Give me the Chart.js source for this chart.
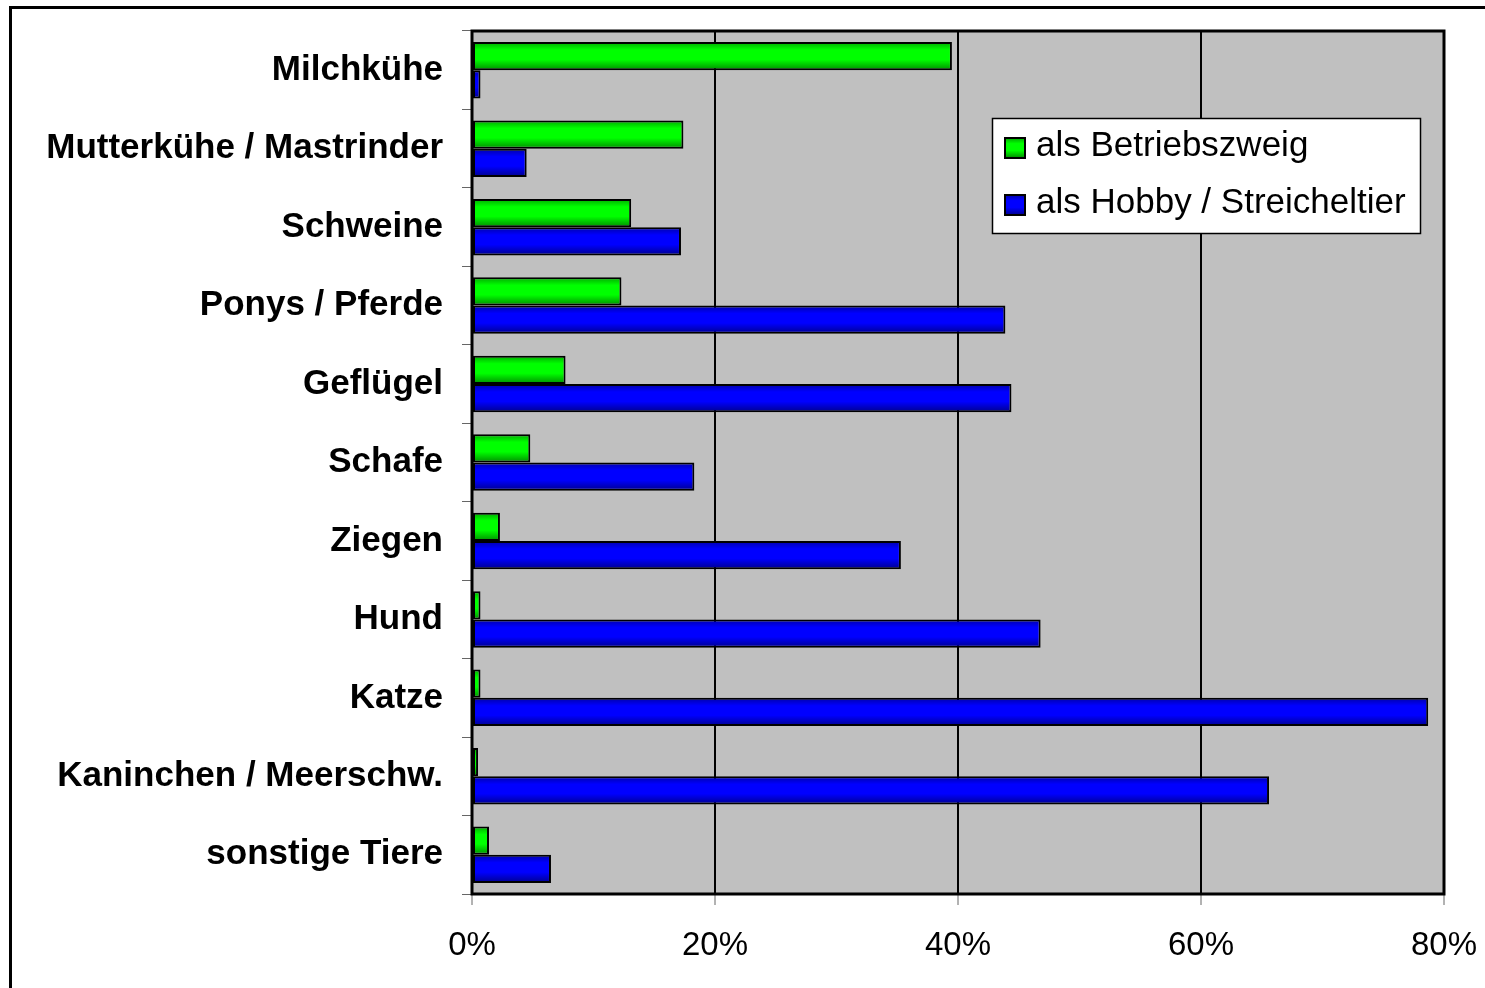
<!DOCTYPE html>
<html>
<head>
<meta charset="utf-8">
<script src="https://cdn.jsdelivr.net/npm/chart.js@4/dist/chart.umd.min.js"></script>
<style>
  html, body { margin: 0; padding: 0; background: #fff; overflow: hidden; }
  canvas { display: block; }
</style>
</head>
<body>
<canvas id="c" width="1485" height="988"></canvas>
<script>
// ---- data ----
const categories = [
  'Milchkühe', 'Mutterkühe / Mastrinder', 'Schweine', 'Ponys / Pferde', 'Geflügel',
  'Schafe', 'Ziegen', 'Hund', 'Katze', 'Kaninchen / Meerschw.', 'sonstige Tiere'
];
const seriesNames = ['als Betriebszweig', 'als Hobby / Streicheltier'];
const betriebszweig = [39.5, 17.4, 13.1, 12.3, 7.7, 4.8, 2.3, 0.7, 0.7, 0.5, 1.4];
const hobby        = [0.7, 4.5, 17.2, 43.9, 44.4, 18.3, 35.3, 46.8, 78.7, 65.6, 6.5];
const xTicks = [0, 20, 40, 60, 80];

// ---- styling ----
const CAT_PCT = 0.72;
const palettes = [
  { base: '#00ff00', stops: [[0, '#00a800'], [0.28, '#00ff00'], [0.62, '#00ff00'], [1, '#008c00']] },
  { base: '#0000ff', stops: [[0, '#0000a8'], [0.28, '#0000ff'], [0.62, '#0000ff'], [1, '#00008c']] }
];

function barFill(ctx) {
  const chart = ctx.chart;
  const pal = palettes[ctx.datasetIndex];
  const sc = chart.scales && chart.scales.y;
  if (!sc || !chart.chartArea || ctx.dataIndex === undefined) return pal.base;
  const center = sc.getPixelForValue(ctx.dataIndex);
  const band = (sc.bottom - sc.top) / categories.length;
  const full = band * CAT_PCT;
  const h = full / chart.data.datasets.length;
  const top = center - full / 2 + ctx.datasetIndex * h;
  const g = chart.ctx.createLinearGradient(0, top, 0, top + h);
  pal.stops.forEach(s => g.addColorStop(s[0], s[1]));
  return g;
}

const barStyle = {
  categoryPercentage: CAT_PCT,
  barPercentage: 1,
  backgroundColor: barFill,
  borderColor: '#000',
  borderWidth: 2,
  borderSkipped: false
};

const framePlugin = {
  id: 'frame',
  beforeDraw(chart) {
    const { ctx, chartArea: a } = chart;
    ctx.save();
    ctx.fillStyle = '#ffffff';
    ctx.fillRect(0, 0, chart.width, chart.height);
    ctx.fillStyle = '#c0c0c0';
    ctx.fillRect(a.left, a.top, a.right - a.left, a.bottom - a.top);
    // outer frame (left and top)
    ctx.fillStyle = '#000';
    ctx.fillRect(9, 6, 3, chart.height);
    ctx.fillRect(9, 6, chart.width, 3);
    ctx.restore();
  },
  afterDraw(chart) {
    const { ctx, chartArea: a } = chart;
    ctx.save();
    ctx.strokeStyle = '#000';
    ctx.lineWidth = 3;
    ctx.strokeRect(a.left, a.top, a.right - a.left, a.bottom - a.top);
    // legend inside plot
    const lx = a.left + 520, ly = a.top + 87, lw = 428, lh = 115;
    ctx.fillStyle = '#fff';
    ctx.fillRect(lx, ly, lw, lh);
    ctx.lineWidth = 1.5;
    ctx.strokeStyle = '#000';
    ctx.strokeRect(lx + 0.5, ly + 0.5, lw, lh);
    ctx.font = '35px "Liberation Sans", Arial, sans-serif';
    ctx.textAlign = 'left';
    ctx.textBaseline = 'alphabetic';
    chart.data.datasets.forEach((ds, i) => {
      const rowBase = ly + 38 + i * 57;
      const bx = lx + 13, by = rowBase - 18, bs = 20;
      const g = ctx.createLinearGradient(0, by, 0, by + bs);
      palettes[i].stops.forEach(s => g.addColorStop(s[0], s[1]));
      ctx.fillStyle = g;
      ctx.fillRect(bx, by, bs, bs);
      ctx.lineWidth = 2;
      ctx.strokeStyle = '#000';
      ctx.strokeRect(bx, by, bs, bs);
      ctx.fillStyle = '#000';
      ctx.fillText(ds.label, lx + 44, rowBase);
    });
    ctx.restore();
  }
};

new Chart(document.getElementById('c'), {
  type: 'bar',
  data: {
    labels: categories,
    datasets: [
      Object.assign({ label: seriesNames[0], data: betriebszweig }, barStyle),
      Object.assign({ label: seriesNames[1], data: hobby }, barStyle)
    ]
  },
  options: {
    indexAxis: 'y',
    responsive: false,
    animation: false,
    devicePixelRatio: 1,
    layout: { padding: { left: 0, top: 31, right: 41, bottom: 0 } },
    plugins: {
      legend: { display: false },
      tooltip: { enabled: false },
      colors: { enabled: false }
    },
    scales: {
      x: {
        min: 0,
        max: 80,
        afterBuildTicks(scale) { scale.ticks = xTicks.map(v => ({ value: v })); },
        afterFit(scale) {
          scale.height = 94;
          scale.paddingLeft = 0; scale.paddingRight = 0;
        },
        border: { display: false },
        grid: {
          color: '#000',
          lineWidth: 2,
          drawTicks: true,
          tickLength: 11,
          tickColor: '#666',
          tickWidth: 1
        },
        ticks: {
          color: '#000',
          padding: 21,
          maxRotation: 0,
          font: { family: '"Liberation Sans", Arial, sans-serif', size: 33 },
          callback: v => v + '%'
        }
      },
      y: {
        afterFit(scale) {
          scale.width = 472;
          scale.paddingTop = 0; scale.paddingBottom = 0;
        },
        border: { display: false },
        grid: {
          drawOnChartArea: false,
          drawTicks: true,
          tickLength: 10,
          tickColor: '#666',
          tickWidth: 1,
          offset: true
        },
        ticks: {
          color: '#000',
          padding: 19,
          autoSkip: false,
          font: { family: '"Liberation Sans", Arial, sans-serif', size: 35, weight: 'bold' }
        }
      }
    }
  },
  plugins: [framePlugin]
});
</script>
</body>
</html>
